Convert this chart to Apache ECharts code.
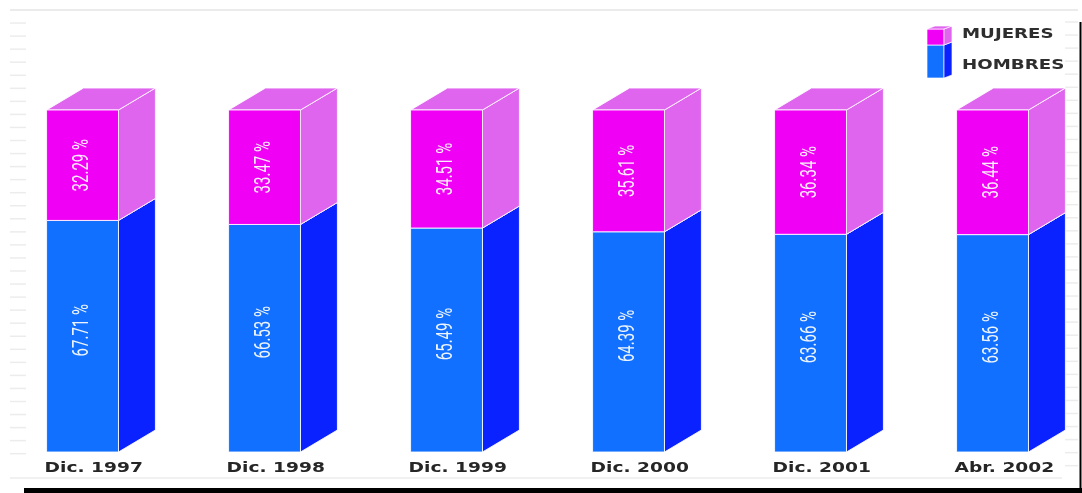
<!DOCTYPE html>
<html>
<head>
<meta charset="utf-8">
<style>
  html, body { margin: 0; padding: 0; background: #ffffff; }
  #chart { width: 1082px; height: 493px; }
</style>
<script src="https://cdn.jsdelivr.net/npm/echarts@6/dist/echarts.min.js"></script>
</head>
<body>
<div id="chart"></div>
<script>
// Periods on the horizontal axis
const categories = ['Dic. 1997', 'Dic. 1998', 'Dic. 1999', 'Dic. 2000', 'Dic. 2001', 'Abr. 2002'];
// Share of men and women (percent), stacked to 100
const hombres = [67.71, 66.53, 65.49, 64.39, 63.66, 63.56];
const mujeres = [32.29, 33.47, 34.51, 35.61, 36.34, 36.44];
const seriesNames = ['HOMBRES', 'MUJERES'];

const palette = {
  HOMBRES: { front: '#1170ff', side: '#0a22ff', top: '#2a5cff' },
  MUJERES: { front: '#f000f4', side: '#e065ee', top: '#e065ee' }
};
const EDGE = 'rgba(255,255,255,0.85)';

// Build [index, base, top, value] rows for each stacked segment
const hombresRows = hombres.map((v, i) => [i, 0, v, v]);
const mujeresRows = mujeres.map((v, i) => [i, hombres[i], hombres[i] + v, v]);

function makeRenderer(name, withCategory) {
  const col = palette[name];
  return function (params, api) {
    const idx = api.value(0);
    const lo = api.value(1);
    const hi = api.value(2);
    const val = api.value(3);
    const pLo = api.coord([idx, lo]);
    const pHi = api.coord([idx, hi]);
    const band = api.size([1, 0])[0];
    const fw = band * 0.395;      // front face width
    const dx = band * 0.203;      // depth, horizontal
    const dy = 22;                // depth, vertical
    const xL = pLo[0] - (fw + dx) / 2;
    const xR = xL + fw;
    const yB = pLo[1];
    const yT = pHi[1];
    const children = [
      {
        type: 'polygon',
        shape: { points: [[xR, yB], [xR + dx, yB - dy], [xR + dx, yT - dy], [xR, yT]] },
        style: { fill: col.side, stroke: EDGE, lineWidth: 1 }
      },
      {
        type: 'polygon',
        shape: { points: [[xL, yT], [xR, yT], [xR + dx, yT - dy], [xL + dx, yT - dy]] },
        style: { fill: col.top, stroke: EDGE, lineWidth: 1 }
      },
      {
        type: 'rect',
        shape: { x: xL, y: yT, width: fw, height: yB - yT },
        style: { fill: col.front, stroke: EDGE, lineWidth: 1 }
      },
      {
        type: 'text',
        x: xL + fw / 2,
        y: (yT + yB) / 2 - (name === 'HOMBRES' ? 6 : 0),
        rotation: Math.PI / 2,
        scaleY: 1.5,
        style: {
          text: val.toFixed(2) + ' %',
          fill: 'rgba(255,255,255,0.92)',
          font: '15px Roboto',
          align: 'center',
          verticalAlign: 'middle'
        }
      }
    ];
    if (withCategory) {
      children.push({
        type: 'text',
        x: xL - 2,
        y: yB + 16,
        scaleX: 1.33,
        style: {
          text: categories[idx],
          fill: '#262626',
          font: 'bold 14px "DejaVu Sans"',
          align: 'left',
          verticalAlign: 'middle'
        }
      });
    }
    return { type: 'group', children: children };
  };
}

// Light frame decoration around the plot
const decor = [];
for (let y = 10; y <= 466; y += 13.05) {
  decor.push({ type: 'line', shape: { x1: 10, y1: y, x2: 26, y2: y }, style: { stroke: '#ececec', lineWidth: 1.5 }, silent: true });
}
for (let y = 22; y <= 466; y += 13.05) {
  decor.push({ type: 'line', shape: { x1: 1065, y1: y, x2: 1078, y2: y }, style: { stroke: '#ececec', lineWidth: 1.5 }, silent: true });
}
decor.push({ type: 'line', shape: { x1: 10, y1: 10, x2: 1078, y2: 10 }, style: { stroke: '#ebebeb', lineWidth: 2 }, silent: true });
decor.push({ type: 'line', shape: { x1: 10, y1: 478, x2: 1062, y2: 478 }, style: { stroke: '#ececec', lineWidth: 1.5 }, silent: true });
decor.push({ type: 'line', shape: { x1: 1080.5, y1: 22, x2: 1080.5, y2: 490 }, style: { stroke: '#000', lineWidth: 2 }, silent: true });
decor.push({ type: 'rect', shape: { x: 24, y: 488, width: 1058, height: 5 }, style: { fill: '#000' }, silent: true });

// Legend: a small stacked block with both colours, plus the two names
const legendGroup = {
  type: 'group',
  children: [
    { type: 'rect', shape: { x: 927, y: 45, width: 17, height: 33 }, style: { fill: palette.HOMBRES.front, stroke: EDGE, lineWidth: 0.8 } },
    { type: 'polygon', shape: { points: [[944, 45], [952, 42], [952, 75], [944, 78]] }, style: { fill: palette.HOMBRES.side, stroke: EDGE, lineWidth: 0.8 } },
    { type: 'rect', shape: { x: 927, y: 29, width: 17, height: 16 }, style: { fill: palette.MUJERES.front, stroke: EDGE, lineWidth: 0.8 } },
    { type: 'polygon', shape: { points: [[944, 29], [952, 26], [952, 42], [944, 45]] }, style: { fill: palette.MUJERES.side, stroke: EDGE, lineWidth: 0.8 } },
    { type: 'polygon', shape: { points: [[927, 29], [944, 29], [952, 26], [935, 26]] }, style: { fill: palette.MUJERES.top, stroke: EDGE, lineWidth: 0.8 } },
    { type: 'text', x: 962, y: 34, scaleX: 1.3, style: { text: seriesNames[1], fill: '#2e2e2e', font: 'bold 14px "DejaVu Sans"', align: 'left', verticalAlign: 'middle' } },
    { type: 'text', x: 962, y: 65, scaleX: 1.3, style: { text: seriesNames[0], fill: '#2e2e2e', font: 'bold 14px "DejaVu Sans"', align: 'left', verticalAlign: 'middle' } }
  ]
};

const chart = echarts.init(document.getElementById('chart'), null, { renderer: 'canvas' });
chart.setOption({
  animation: false,
  backgroundColor: '#ffffff',
  grid: { left: 10, top: 110, width: 1092, height: 342, outerBoundsMode: 'none', containLabel: false },
  xAxis: {
    type: 'category',
    data: categories,
    axisLine: { show: false },
    axisTick: { show: false },
    axisLabel: { show: false }
  },
  yAxis: {
    type: 'value',
    min: 0,
    max: 100,
    show: false
  },
  graphic: decor.concat([legendGroup]),
  series: [
    {
      name: seriesNames[0],
      type: 'custom',
      renderItem: makeRenderer('HOMBRES', true),
      data: hombresRows,
      encode: { x: 0, y: [1, 2] }
    },
    {
      name: seriesNames[1],
      type: 'custom',
      renderItem: makeRenderer('MUJERES', false),
      data: mujeresRows,
      encode: { x: 0, y: [1, 2] }
    }
  ]
});
</script>
</body>
</html>
